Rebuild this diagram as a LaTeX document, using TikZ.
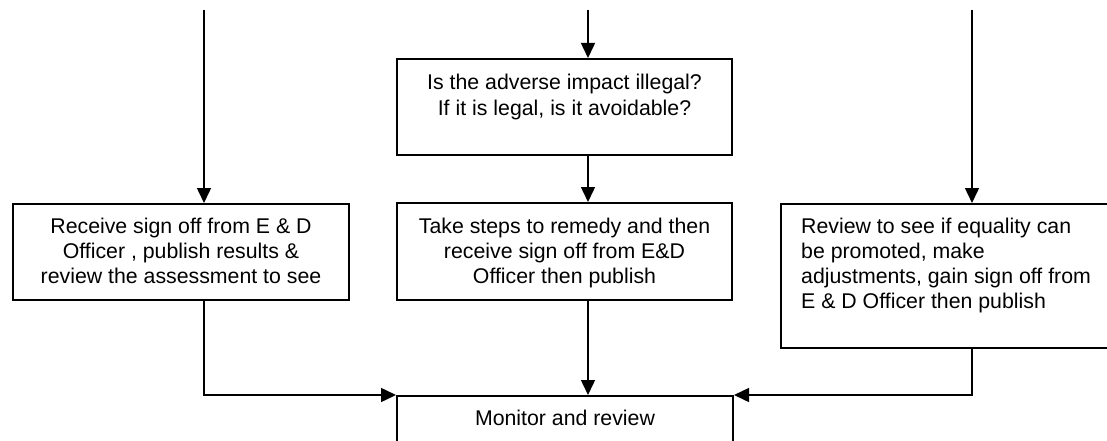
\documentclass[tikz,border=0pt]{standalone}
\usepackage{fontspec}
\setmainfont{Liberation Sans}
\usetikzlibrary{arrows.meta}
\begin{document}
\begin{tikzpicture}[x=1pt,y=-1pt,
  box/.style={draw,line width=2pt,inner sep=0pt,anchor=north west},
  txt/.style={inner sep=0pt,font=\fontsize{21.3}{25}\selectfont,anchor=base},
  conn/.style={line width=1.5pt,-{Triangle[length=15pt,width=14pt]}}]
\clip (0,0) rectangle (1107,441);
\fill[white] (0,0) rectangle (1107,441);
% boxes
\node[box,minimum width=336pt,minimum height=96pt] (lbox) at (12,203) {};
\node[box,minimum width=335pt,minimum height=96pt] (mbox1) at (396,58) {};
\node[box,minimum width=335pt,minimum height=97pt] (mbox2) at (396,202) {};
\node[box,minimum width=340pt,minimum height=144pt] (rbox) at (780,203) {};
\node[box,minimum width=336pt,minimum height=70pt] (mon) at (396,395) {};
% texts (anchor base = baseline of the last line)
\node[txt,align=center] (lt) at ([yshift=-80pt]lbox.north) {Receive sign off from E \& D\\Officer , publish results \&\\review the assessment to see};
\node[txt,align=center] (m1t) at ([yshift=-57pt]mbox1.north) {Is the adverse impact illegal?\\If it is legal, is it avoidable?};
\node[txt,align=center] (m2t) at ([yshift=-81pt]mbox2.north) {Take steps to remedy and then\\receive sign off from E\&D\\Officer then publish};
\node[txt,align=left,anchor=base west] (rt) at (801,308) {Review to see if equality can\\be promoted, make\\adjustments, gain sign off from\\E \& D Officer then publish};
\node[txt,align=center] (mt) at ([yshift=-30pt]mon.north) {Monitor and review};
% connector start points
\coordinate (lin) at (204,10);
\coordinate (min) at (588,10);
\coordinate (rin) at (972,10);
\coordinate (lturn) at (204,395);
\coordinate (rturn) at (972,395);
% connectors
\draw[conn] (lin) -- (lin |- lbox.north);
\draw[conn] (min) -- (min |- mbox1.north);
\draw[conn] (rin) -- (rin |- rbox.north);
\draw[conn] (min |- mbox1.south) -- (min |- mbox2.north);
\draw[conn] (min |- mbox2.south) -- (min |- mon.north);
\draw[conn] (lturn |- lbox.south) -- (lturn) -- (mon.north west);
\draw[conn] (rturn |- rbox.south) -- (rturn) -- (mon.north east);
\end{tikzpicture}
\end{document}
